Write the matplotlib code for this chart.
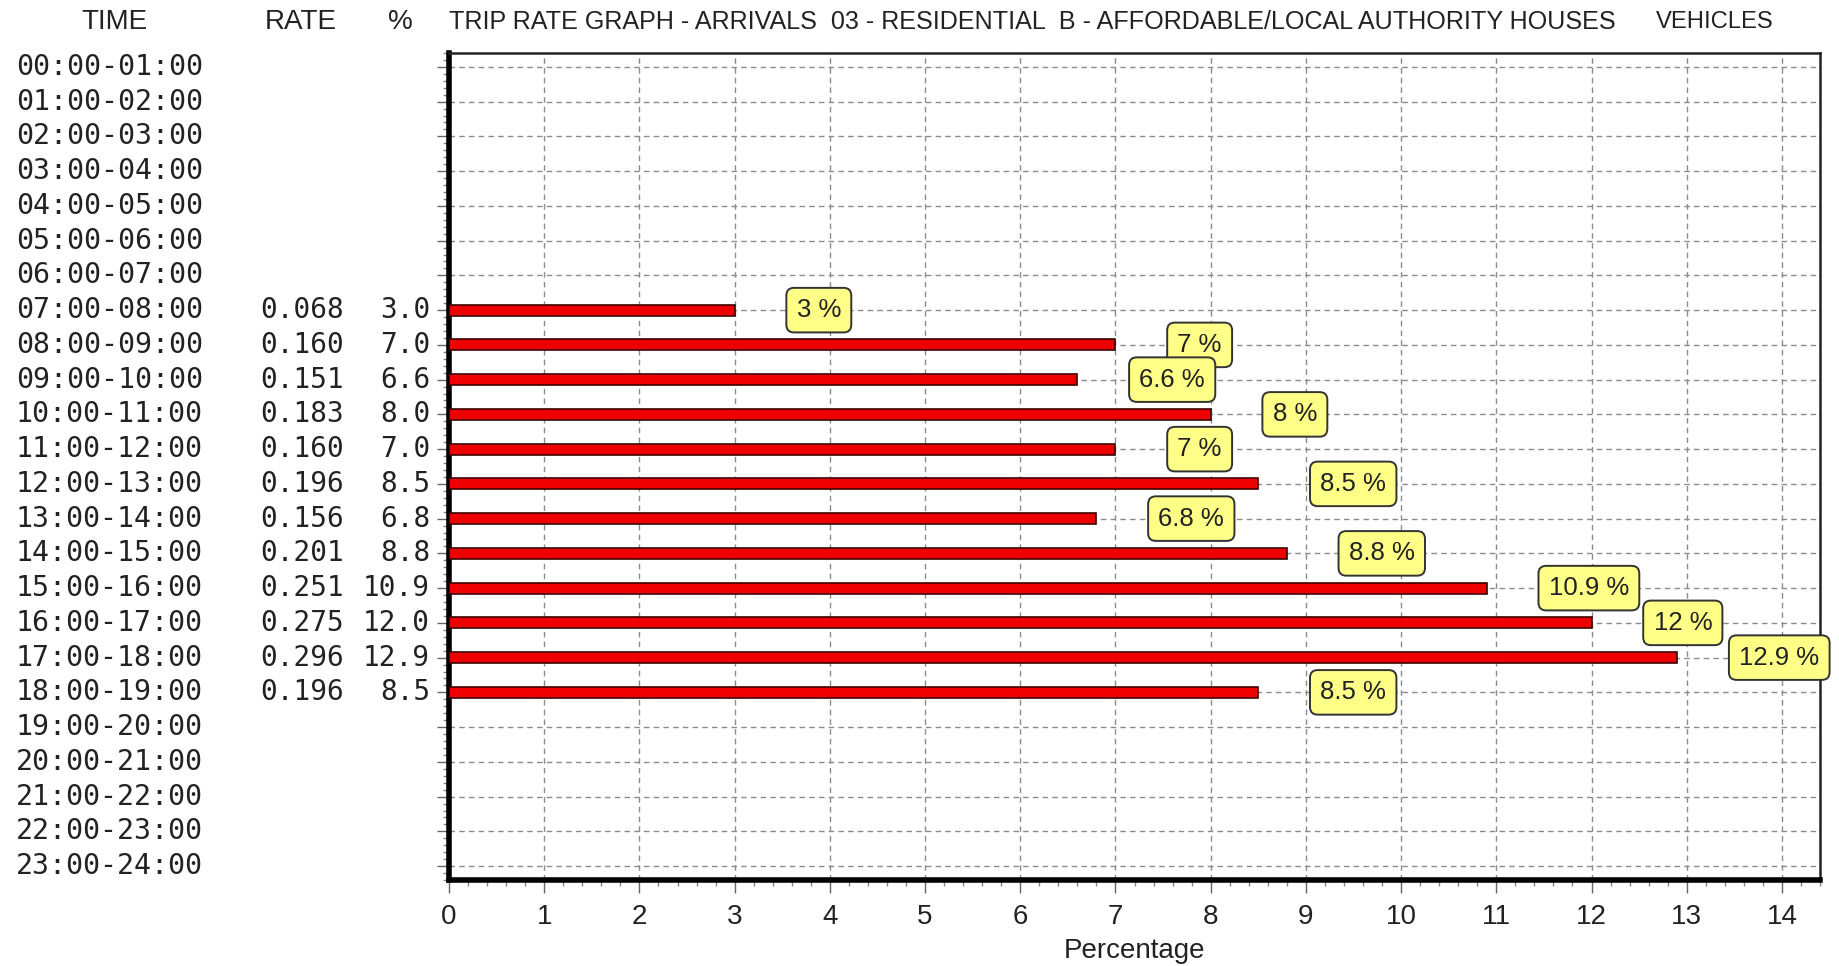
import matplotlib
matplotlib.use("Agg")
import matplotlib.pyplot as plt
from matplotlib.ticker import MultipleLocator, FixedLocator
from matplotlib.transforms import blended_transform_factory

# ---- data -------------------------------------------------------------
time_slots = [f"{h:02d}:00-{h + 1:02d}:00" for h in range(24)]
active_slots = ["07:00-08:00", "08:00-09:00", "09:00-10:00", "10:00-11:00",
                "11:00-12:00", "12:00-13:00", "13:00-14:00", "14:00-15:00",
                "15:00-16:00", "16:00-17:00", "17:00-18:00", "18:00-19:00"]
trip_rates = [0.068, 0.160, 0.151, 0.183, 0.160, 0.196,
              0.156, 0.201, 0.251, 0.275, 0.296, 0.196]
percentages = [3.0, 7.0, 6.6, 8.0, 7.0, 8.5, 6.8, 8.8, 10.9, 12.0, 12.9, 8.5]
x_ticks = list(range(15))

title_text = ("TRIP RATE GRAPH - ARRIVALS  03 - RESIDENTIAL  B - "
              "AFFORDABLE/LOCAL AUTHORITY HOUSES")
mode_text = "VEHICLES"

# ---- figure -----------------------------------------------------------
W, H = 1839, 966
fig = plt.figure(figsize=(W / 100, H / 100), dpi=100, facecolor="white")
ax = fig.add_axes([449 / W, 1 - 880 / H, (1820 - 449) / W, (880 - 53) / H])

sans = ["Liberation Sans", "DejaVu Sans"]
mono = ["DejaVu Sans Mono"]
ink = "#222222"

rows = list(range(len(time_slots)))
bar_rows = [time_slots.index(s) for s in active_slots]

ax.barh(bar_rows, percentages, height=0.32, color="#ee0000",
        edgecolor="#400000", linewidth=1.2, zorder=3)

ax.set_xlim(0, 14.4)
ax.set_ylim(23.4, -0.4)

# grid and ticks
ax.xaxis.set_major_locator(FixedLocator(x_ticks))
ax.xaxis.set_minor_locator(MultipleLocator(0.2))
ax.yaxis.set_major_locator(FixedLocator(rows))
ax.yaxis.set_minor_locator(MultipleLocator(0.2))
ax.set_yticklabels([])
ax.grid(True, which="major", color="#8c8c8c", linestyle=(0, (4, 3)),
        linewidth=1.0, zorder=0)
ax.tick_params(axis="both", which="major", direction="out", length=9,
               width=1, color="#666666")
ax.tick_params(axis="both", which="minor", direction="out", length=4,
               width=1, color="#888888")
ax.tick_params(axis="x", which="major", labelsize=20, pad=8,
               labelcolor=ink)
for lbl in ax.get_xticklabels():
    lbl.set_family(sans)
ax.set_axisbelow(True)

for side in ("left", "bottom"):
    ax.spines[side].set_linewidth(4)
    ax.spines[side].set_color("black")
for side in ("top", "right"):
    ax.spines[side].set_linewidth(1.8)
    ax.spines[side].set_color("#222222")

ax.set_xlabel("Percentage", fontsize=20, family=sans, labelpad=6, color=ink)

# value boxes next to each bar
for row, pct in zip(bar_rows, percentages):
    ax.annotate(f"{pct:g} %", xy=(pct, row), xytext=(62, 0),
                textcoords="offset pixels", ha="left", va="center",
                fontsize=18.5, family=sans, color=ink, zorder=5,
                annotation_clip=False,
                bbox=dict(boxstyle="round,pad=0.4,rounding_size=0.3",
                          facecolor="#ffff88", edgecolor="#333333",
                          linewidth=1.4))

# left-hand table: time, rate, percentage
tr = blended_transform_factory(fig.transFigure, ax.transData)
for row, slot in zip(rows, time_slots):
    fig.text(16 / W, row, slot, transform=tr, ha="left", va="center",
             fontsize=20.3, family=mono, color=ink)
for row, rate, pct in zip(bar_rows, trip_rates, percentages):
    fig.text(344 / W, row, f"{rate:.3f}", transform=tr, ha="right",
             va="center", fontsize=20, family=mono, color=ink)
    fig.text(430 / W, row, f"{pct:.1f}", transform=tr, ha="right",
             va="center", fontsize=20, family=mono, color=ink)

# header line
hy = 1 - 22 / H
fig.text(114 / W, hy, "TIME", ha="center", va="center", fontsize=20,
         family=sans, color=ink)
fig.text(301 / W, hy, "RATE", ha="center", va="center", fontsize=20,
         family=sans, color=ink)
fig.text(400 / W, hy, "%", ha="center", va="center", fontsize=20,
         family=sans, color=ink)
title = fig.text(449 / W, hy, title_text, ha="left", va="center",
                 fontsize=20, family=sans, color=ink)
mode = fig.text(1656 / W, hy, mode_text, ha="left", va="center",
                fontsize=20, family=sans, color=ink)

# fit the title and mode label into their header slots
fig.canvas.draw()
renderer = fig.canvas.get_renderer()
for txt, target in ((title, 1169), (mode, 117)):
    width = txt.get_window_extent(renderer).width
    txt.set_fontsize(txt.get_fontsize() * min(1.0, target / width))

fig.savefig("out.png", dpi=100, facecolor="white")
